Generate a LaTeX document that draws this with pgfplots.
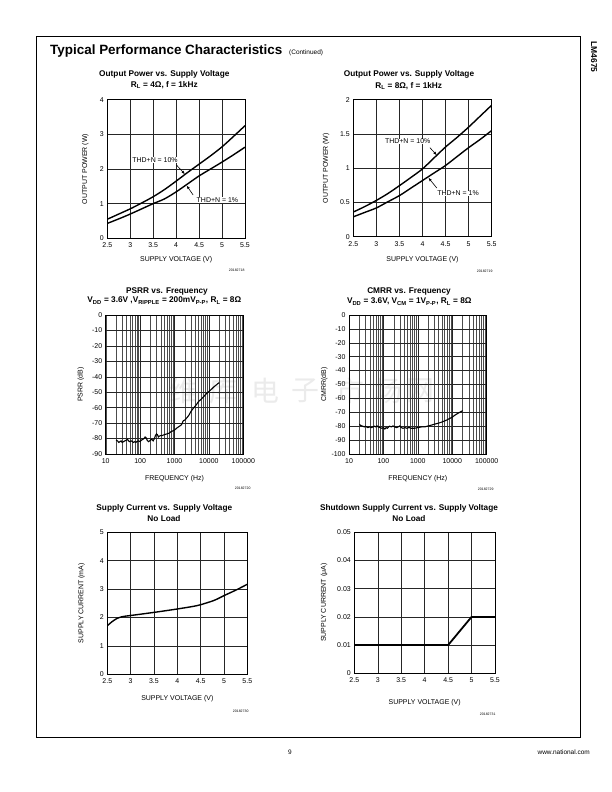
\documentclass[border=0pt]{standalone}
\usepackage{pgfplots}
\pgfplotsset{compat=1.18}
\usepackage{fontspec}
\setmainfont{Liberation Sans}
\newfontfamily\cjk{Noto Sans CJK SC}
\usetikzlibrary{arrows.meta}
\newcommand{\tfont}{\fontsize{8.3}{9.5}\selectfont\bfseries}
\newcommand{\sfont}{\fontsize{7}{8}\selectfont}
\newcommand{\nfont}{\fontsize{3.5}{4}\selectfont}
\begin{document}
\begin{tikzpicture}
\path[use as bounding box] (0bp,0bp) rectangle (612bp,792bp);
\fill[white] (0bp,0bp) rectangle (612bp,792bp);
% watermark
\begin{scope}[every node/.style={font=\cjk\fontsize{28}{30}\selectfont, text=black!8, inner sep=0pt}]
\node at (183bp,401bp) {维};
\node at (223bp,401bp) {库};
\node at (265bp,401bp) {电};
\node at (305bp,401bp) {子};
\node at (350bp,401bp) {市};
\node at (388bp,401bp) {场};
\node at (420bp,401bp) {网};
\end{scope}
% page frame and header/footer
\draw[line width=0.8pt] (36bp,756bp) rectangle (580bp,55bp);
\node[anchor=base west, inner sep=0pt, font=\fontsize{13.5}{15}\selectfont\bfseries] at (50bp,737bp) {Typical Performance Characteristics};
\node[anchor=base west, inner sep=0pt, font=\fontsize{6.5}{7}\selectfont] at (289bp,737bp) {(Continued)};
\node[rotate=-90, inner sep=0pt, font=\fontsize{8.5}{9}\selectfont\bfseries] at (594bp,735bp) {LM4675};
\node[inner sep=0pt, font=\fontsize{6.5}{7}\selectfont] at (290bp,40bp) {9};
\node[anchor=east, inner sep=0pt, font=\fontsize{6.5}{7}\selectfont] at (590bp,40bp) {www.national.com};

\pgfplotsset{
  every axis/.append style={
    scale only axis,
    anchor=south west,
    axis line style={line width=0.9pt},
    grid=major,
    major grid style={black!85, line width=0.45pt},
    minor grid style={black!70, line width=0.3pt},
    major tick length=0pt,
    minor tick length=0pt,
    tick label style={font=\sfont},
    label style={font=\sfont},
    xticklabel style={yshift=-1pt},
    scaled ticks=false,
  }
}

% ---------- Plot 1 ----------
\node[font=\tfont] at (164.3bp,717.7bp) {Output Power vs. Supply Voltage};
\node[font=\tfont] at (164.3bp,707bp) {R\textsubscript{L} = 4Ω, f = 1kHz};
\node[font=\nfont, anchor=east] at (248bp,522bp) {20182718};
\begin{axis}[at={(107.3bp,553.7bp)}, width=137.7bp, height=138.6bp,
  xmin=2.5, xmax=5.5, ymin=0, ymax=4,
  xtick={2.5,3,3.5,4,4.5,5,5.5}, xticklabels={2.5,3,3.5,4,4.5,5,5.5},
  ytick={0,1,2,3,4}, yticklabels={0,1,2,3,4},
  xlabel={SUPPLY VOLTAGE (V)}, ylabel={OUTPUT POWER (W)},
  xlabel style={at={(axis description cs:0.5,-0.157)}, anchor=center},
  ylabel style={at={(axis description cs:-0.16,0.5)}, anchor=center}]
\addplot[black, line width=1.4pt, smooth] coordinates {(2.5,0.55) (2.75,0.7) (3.0,0.85) (3.25,1.02) (3.5,1.2) (3.75,1.41) (4.0,1.65) (4.25,1.9) (4.5,2.14) (4.75,2.38) (5.0,2.64) (5.25,2.94) (5.5,3.25)};
\addplot[black, line width=1.4pt, smooth] coordinates {(2.5,0.43) (2.75,0.56) (3.0,0.7) (3.25,0.85) (3.5,1.0) (3.75,1.14) (4.0,1.34) (4.25,1.57) (4.5,1.8) (4.75,2.0) (5.0,2.2) (5.25,2.41) (5.5,2.63)};
\node[font=\sfont, fill=white, inner sep=0.5pt] at (axis cs:3.54,2.26) {THD+N = 10\%};
\draw[line width=0.6pt, -{Latex[length=3.5pt,width=2.8pt]}] (axis cs:4.01,2.11) -- (axis cs:4.19,1.85);
\node[font=\sfont, fill=white, inner sep=0.5pt] at (axis cs:4.9,1.1) {THD+N = 1\%};
\draw[line width=0.6pt, -{Latex[length=3.5pt,width=2.8pt]}] (axis cs:4.37,1.25) -- (axis cs:4.23,1.52);
\end{axis}

% ---------- Plot 2 ----------
\node[font=\tfont] at (409bp,717.7bp) {Output Power vs. Supply Voltage};
\node[font=\tfont] at (408.7bp,706.3bp) {R\textsubscript{L} = 8Ω, f = 1kHz};
\node[font=\nfont, anchor=east] at (496bp,521bp) {20182719};
\begin{axis}[at={(353.3bp,555.3bp)}, width=138.4bp, height=137bp,
  xmin=2.5, xmax=5.5, ymin=0, ymax=2,
  xtick={2.5,3,3.5,4,4.5,5,5.5}, xticklabels={2.5,3,3.5,4,4.5,5,5.5},
  ytick={0,0.5,1,1.5,2}, yticklabels={0,0.5,1,1.5,2},
  xlabel={SUPPLY VOLTAGE (V)}, ylabel={OUTPUT POWER (W)},
  xlabel style={at={(axis description cs:0.5,-0.17)}, anchor=center},
  ylabel style={at={(axis description cs:-0.196,0.5)}, anchor=center}]
\addplot[black, line width=1.4pt, smooth] coordinates {(2.5,0.36) (2.75,0.44) (3.0,0.53) (3.25,0.63) (3.5,0.745) (3.75,0.865) (4.0,0.99) (4.25,1.15) (4.5,1.31) (4.75,1.45) (5.0,1.6) (5.25,1.76) (5.5,1.92)};
\addplot[black, line width=1.4pt, smooth] coordinates {(2.5,0.29) (2.75,0.355) (3.0,0.42) (3.25,0.51) (3.5,0.6) (3.75,0.71) (4.0,0.82) (4.25,0.93) (4.5,1.04) (4.75,1.17) (5.0,1.3) (5.25,1.42) (5.5,1.55)};
\node[font=\sfont, fill=white, inner sep=0.5pt] at (axis cs:3.68,1.39) {THD+N = 10\%};
\draw[line width=0.6pt, -{Latex[length=3.5pt,width=2.8pt]}] (axis cs:4.16,1.3) -- (axis cs:4.31,1.19);
\node[font=\sfont, fill=white, inner sep=0.5pt] at (axis cs:4.77,0.63) {THD+N = 1\%};
\draw[line width=0.6pt, -{Latex[length=3.5pt,width=2.8pt]}] (axis cs:4.31,0.71) -- (axis cs:4.13,0.86);
\end{axis}

% ---------- Plot 3 PSRR ----------
\node[font=\tfont] at (167bp,500.3bp) {PSRR vs. Frequency};
\node[font=\tfont] at (164.3bp,491.3bp) {V\textsubscript{DD} = 3.6V ,V\textsubscript{RIPPLE} = 200mV\textsubscript{P-P}, R\textsubscript{L} = 8Ω};
\node[font=\nfont, anchor=east] at (254bp,304bp) {20182720};
\begin{axis}[at={(105.7bp,338bp)}, width=137.6bp, height=139bp,
  xmode=log, xmin=10, xmax=100000, ymin=-90, ymax=0,
  grid=both,
  xtick={10,100,1000,10000,100000}, xticklabels={10,100,1000,10000,100000},
  ytick={0,-10,-20,-30,-40,-50,-60,-70,-80,-90},
  yticklabels={0,-10,-20,-30,-40,-50,-60,-70,-80,-90},
  xlabel={FREQUENCY (Hz)}, ylabel={PSRR (dB)},
  xlabel style={at={(axis description cs:0.5,-0.175)}, anchor=center},
  ylabel style={at={(axis description cs:-0.18,0.5)}, anchor=center}]
\addplot[black, line width=1.1pt] coordinates {(20,-81) (22,-81.5) (24,-82.5) (26,-82) (28,-81.5) (30,-82.5) (33,-82) (36,-81.5) (40,-81) (43,-80.5) (46,-81.5) (50,-82) (55,-81.5) (60,-82) (65,-82.5) (70,-82) (75,-82.5) (80,-82) (90,-81.5) (100,-82) (110,-81) (120,-80.5) (130,-80) (140,-79) (150,-79.5) (160,-81) (175,-82) (190,-81.5) (200,-81) (220,-80.5) (240,-81.5) (260,-80) (280,-78) (300,-77) (320,-77.5) (340,-79) (360,-78.5) (400,-78) (450,-78) (500,-77.5) (600,-77) (700,-76.5) (800,-75.5) (900,-75) (1000,-74.5) (1200,-73) (1400,-72) (1600,-71) (1800,-68.5) (2000,-68) (2300,-66.5) (2600,-65) (3000,-62.5) (3500,-60.5) (4000,-59) (4500,-57.5) (5000,-56) (6000,-54.5) (7000,-53) (8000,-51.5) (9000,-50.5) (10000,-49.5) (12000,-48) (14000,-46.5) (16000,-45.5) (18000,-44.5) (20000,-43.8)};
\end{axis}

% ---------- Plot 4 CMRR ----------
\node[font=\tfont] at (409bp,500.3bp) {CMRR vs. Frequency};
\node[font=\tfont] at (409.3bp,490.3bp) {V\textsubscript{DD} = 3.6V, V\textsubscript{CM} = 1V\textsubscript{P-P}, R\textsubscript{L} = 8Ω};
\node[font=\nfont, anchor=east] at (497bp,303bp) {20182729};
\begin{axis}[at={(349bp,338bp)}, width=137.7bp, height=139bp,
  xmode=log, xmin=10, xmax=100000, ymin=-100, ymax=0,
  grid=both,
  xtick={10,100,1000,10000,100000}, xticklabels={10,100,1000,10000,100000},
  ytick={0,-10,-20,-30,-40,-50,-60,-70,-80,-90,-100},
  yticklabels={0,-10,-20,-30,-40,-50,-60,-70,-80,-90,-100},
  xlabel={FREQUENCY (Hz)}, ylabel={CMRR(dB)},
  xlabel style={at={(axis description cs:0.5,-0.175)}, anchor=center},
  ylabel style={at={(axis description cs:-0.18,0.5)}, anchor=center}]
\addplot[black, line width=1.1pt] coordinates {(20,-78.7) (22,-79.5) (25,-80) (28,-80.5) (30,-80) (35,-81) (40,-80.5) (45,-81) (50,-80.5) (55,-80) (60,-80.5) (65,-79.8) (70,-80.5) (80,-81) (90,-81.5) (100,-81) (110,-82) (120,-81) (130,-81.5) (150,-80) (170,-80.5) (190,-79.8) (210,-80.5) (240,-81) (270,-80.5) (300,-79.8) (330,-81) (370,-81.5) (420,-81) (480,-81.5) (550,-81) (650,-81.5) (800,-81.5) (1000,-81) (1300,-80.5) (1600,-80.5) (2000,-79.8) (2500,-79.2) (3000,-78.6) (4000,-77.8) (5000,-77) (6000,-76.2) (7000,-75.5) (8000,-74.7) (10000,-73.5) (12000,-72) (14000,-71) (17000,-69.8) (20000,-68.8)};
\end{axis}

% ---------- Plot 5 ----------
\node[font=\tfont] at (164.3bp,283.7bp) {Supply Current vs. Supply Voltage};
\node[font=\tfont] at (164bp,273.7bp) {No Load};
\node[font=\nfont, anchor=east] at (252bp,81bp) {20182730};
\begin{axis}[at={(107.3bp,117.7bp)}, width=140bp, height=142bp,
  xmin=2.5, xmax=5.5, ymin=0, ymax=5,
  xtick={2.5,3,3.5,4,4.5,5,5.5}, xticklabels={2.5,3,3.5,4,4.5,5,5.5},
  ytick={0,1,2,3,4,5}, yticklabels={0,1,2,3,4,5},
  xlabel={SUPPLY VOLTAGE (V)}, ylabel={SUPPLY CURRENT (mA)},
  xlabel style={at={(axis description cs:0.5,-0.175)}, anchor=center},
  ylabel style={at={(axis description cs:-0.183,0.5)}, anchor=center}]
\addplot[black, line width=1.4pt, smooth] coordinates {(2.5,1.71) (2.6,1.85) (2.7,1.96) (2.8,2.02) (2.9,2.05) (3.0,2.07) (3.5,2.18) (4.0,2.3) (4.4,2.41) (4.6,2.5) (4.8,2.61) (5.0,2.77) (5.25,2.96) (5.5,3.17)};
\end{axis}

% ---------- Plot 6 ----------
\node[font=\tfont] at (409bp,283.7bp) {Shutdown Supply Current vs. Supply Voltage};
\node[font=\tfont] at (409bp,273.7bp) {No Load};
\node[font=\nfont, anchor=east] at (499bp,78bp) {20182731};
\begin{axis}[at={(354.3bp,118.7bp)}, width=140.7bp, height=141bp,
  xmin=2.5, xmax=5.5, ymin=0, ymax=0.05,
  xtick={2.5,3,3.5,4,4.5,5,5.5}, xticklabels={2.5,3,3.5,4,4.5,5,5.5},
  ytick={0,0.01,0.02,0.03,0.04,0.05}, yticklabels={0,0.01,0.02,0.03,0.04,0.05},
  scaled y ticks=false,
  xlabel={SUPPLY VOLTAGE (V)}, ylabel={SUPPLY CURRENT (μA)},
  xlabel style={at={(axis description cs:0.5,-0.21)}, anchor=center},
  ylabel style={at={(axis description cs:-0.215,0.5)}, anchor=center}]
\addplot[black, line width=1.8pt] coordinates {(2.5,0.01) (4.5,0.01) (5.0,0.02) (5.5,0.02)};
\end{axis}
\end{tikzpicture}
\end{document}
